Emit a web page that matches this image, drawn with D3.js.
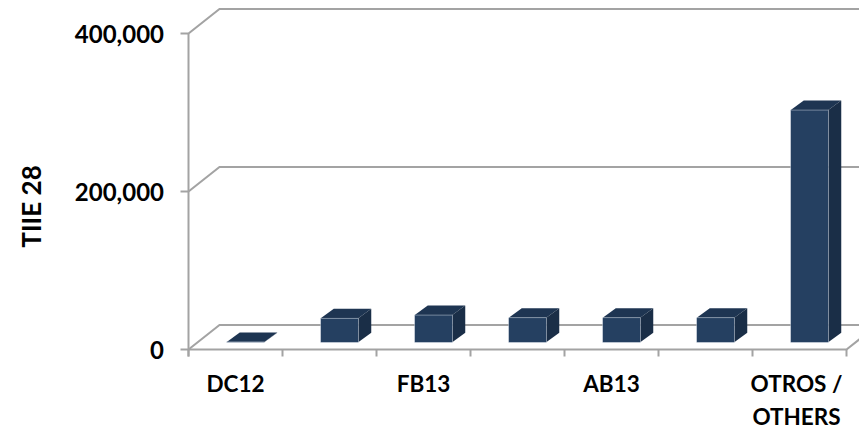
<!DOCTYPE html>
<html><head><meta charset="utf-8">
<script src="https://cdn.jsdelivr.net/npm/d3@7"></script>
<style>html,body{margin:0;background:#fff}svg{display:block}text{font-family:Lato,"Open Sans",sans-serif;font-weight:700;fill:#000}</style>
</head><body><svg id="c" width="859" height="431"></svg>
<script>
const categories=["DC12","","FB13","","AB13","","OTROS / OTHERS"];
const values=[500,30500,34500,31000,31000,31000,294000];
const yTicks=[0,200000,400000];
const axisTitle="TIIE 28";
const svg=d3.select("#c");
const x=d3.scaleBand().domain(d3.range(categories.length)).range([188.5,846.5]).paddingInner(0).paddingOuter(0);
const y=d3.scaleLinear().domain([0,400000]).range([349.5,33.5]);
const dx=31,dy=-24.5,grid="#a3a3a3";
const g=svg.append("g").attr("fill","none").attr("stroke",grid).attr("stroke-width",2);
yTicks.forEach(t=>{
  g.append("path").attr("d",`M${x.range()[0]-8},${y(t)}H${x.range()[0]}l${dx},${dy}H859`);
});
g.append("line").attr("x1",x.range()[0]).attr("x2",x.range()[0]).attr("y1",y(0)+7).attr("y2",y(400000));
g.append("path").attr("d",`M${x.range()[0]},${y(0)}H${x.range()[1]}l${dx},${dy}`);
d3.range(categories.length+1).forEach(i=>{
  const px=x.range()[0]+i*x.step();
  g.append("line").attr("x1",px).attr("x2",px).attr("y1",y(0)).attr("y2",y(0)+7);
});
const bw=37.5,ox=13,oy=-9.5,base=7.2;
const bars=svg.append("g").selectAll("g").data(values).join("g");
const bx=(d,i)=>x(i)+x.step()/2-bw/2+10;
const barTop=d=>y(d)-base;
const bot=y(0)-base;
bars.append("path").attr("fill","#1e3552").attr("d",(d,i)=>{const a=bx(d,i);return `M${a},${barTop(d)}l${ox},${oy}h${bw}l${-ox},${-oy}z`});
bars.append("path").attr("fill","#1a2e47").attr("d",(d,i)=>{const a=bx(d,i)+bw;return `M${a},${barTop(d)}l${ox},${oy}V${bot+oy}l${-ox},${-oy}z`});
bars.append("rect").attr("fill","#254061").attr("stroke","#b9c4d2").attr("stroke-width",.5)
  .attr("x",(d,i)=>bx(d,i)).attr("y",d=>barTop(d)).attr("width",bw).attr("height",d=>bot-barTop(d));
svg.append("g").selectAll("text").data(yTicks).join("text")
  .attr("x",164).attr("y",d=>y(d)+9.5).attr("text-anchor","end").attr("font-size",24).text(d3.format(","));
categories.forEach((c,i)=>{
  if(!c)return;
  const parts=c.includes(" / ")?[c.split(" / ")[0]+" /",c.split(" / ")[1]]:[c];
  const cx=x(i)+x.step()/2-(parts.length>1?3:0);
  parts.forEach((p,k)=>svg.append("text").attr("x",cx).attr("y",391.5+k*33).attr("text-anchor","middle").attr("font-size",22.5).text(p));
});
svg.append("text").attr("transform","translate(41,206.5) rotate(-90)").attr("text-anchor","middle").attr("font-size",26).text(axisTitle);
</script></body></html>
